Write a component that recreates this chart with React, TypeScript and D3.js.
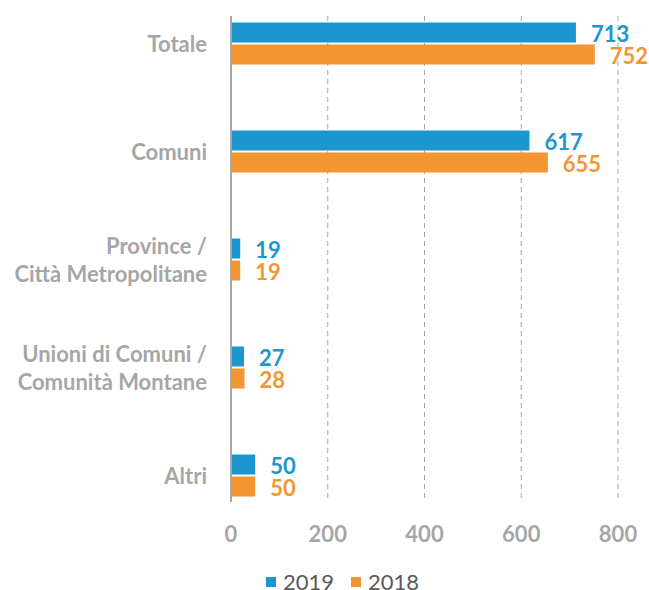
import * as d3 from 'd3';

const categories = [
    ['Totale'],
    ['Comuni'],
    ['Province /', 'Città Metropolitane'],
    ['Unioni di Comuni /', 'Comunità Montane'],
    ['Altri'],
];
const values2019 = [713, 617, 19, 27, 50];
const values2018 = [752, 655, 19, 28, 50];
const xTicks = [0, 200, 400, 600, 800];
const seriesNames = ['2019', '2018'];

const COLORS = {
    blue: '#1C96CD',
    orange: '#F39531',
    label: '#A6A6A6',
    axis: '#A6A6A6',
    grid: '#A6A6A6',
    legendText: '#595959',
};

const FONT = 'Lato, "Open Sans", sans-serif';

export default function App() {
    const width = 649;
    const height = 590;

    const x = d3.scaleLinear().domain([0, 800]).range([231, 618]);
    const y = d3.scalePoint<number>()
        .domain(categories.map((_, i) => i))
        .range([43.5, 475.5]);

    const plotTop = 16;
    const plotBottom = 502;
    const barH = 20;
    const gap = 2;
    const fs = 22;

    return (
        <svg width={width} height={height}
            style={{ position: 'absolute', left: 0, top: 0, background: '#fff' }}
            fontFamily={FONT}>
            {/* Gridlines */}
            {xTicks.filter(t => t > 0).map(t => (
                <line key={t} x1={x(t)} x2={x(t)} y1={plotTop} y2={plotBottom}
                    stroke={COLORS.grid} strokeWidth={1} strokeDasharray="5,4" />
            ))}

            {/* Bars */}
            {categories.map((_, i) => {
                const cy = y(i) as number;
                return (
                    <g key={i}>
                        <rect x={x(0)} y={cy - gap / 2 - barH}
                            width={x(values2019[i]) - x(0)} height={barH} fill={COLORS.blue} />
                        <rect x={x(0)} y={cy + gap / 2}
                            width={x(values2018[i]) - x(0)} height={barH} fill={COLORS.orange} />
                        <text x={x(values2019[i]) + 15} y={cy - gap / 2 - barH / 2 + 1}
                            dominantBaseline="central" fill={COLORS.blue}
                            fontSize={fs} fontWeight="bold">{values2019[i]}</text>
                        <text x={x(values2018[i]) + 15} y={cy + gap / 2 + barH / 2 + 1}
                            dominantBaseline="central" fill={COLORS.orange}
                            fontSize={fs} fontWeight="bold">{values2018[i]}</text>
                    </g>
                );
            })}

            {/* Category axis */}
            <line x1={x(0)} x2={x(0)} y1={plotTop} y2={plotBottom}
                stroke={COLORS.axis} strokeWidth={2} />
            {categories.map((lines, i) => {
                const cy = y(i) as number;
                const lh = 27.5;
                const start = cy - ((lines.length - 1) * lh) / 2;
                return lines.map((ln, j) => (
                    <text key={`${i}-${j}`} x={207} y={start + j * lh}
                        textAnchor="end" dominantBaseline="central"
                        fill={COLORS.label} fontSize={fs} fontWeight="bold">{ln}</text>
                ));
            })}

            {/* Value axis labels */}
            {xTicks.map(t => (
                <text key={t} x={x(t)} y={533} textAnchor="middle"
                    dominantBaseline="central" fill={COLORS.label}
                    fontSize={fs} fontWeight="bold">{t}</text>
            ))}

            {/* Legend */}
            {seriesNames.map((name, i) => {
                const lx = [266, 351][i];
                return (
                    <g key={name}>
                        <rect x={lx} y={577} width={10} height={10}
                            fill={i === 0 ? COLORS.blue : COLORS.orange} />
                        <text x={lx + 17} y={581} dominantBaseline="central"
                            fill={COLORS.legendText} fontSize={fs}>{name}</text>
                    </g>
                );
            })}
        </svg>
    );
}
